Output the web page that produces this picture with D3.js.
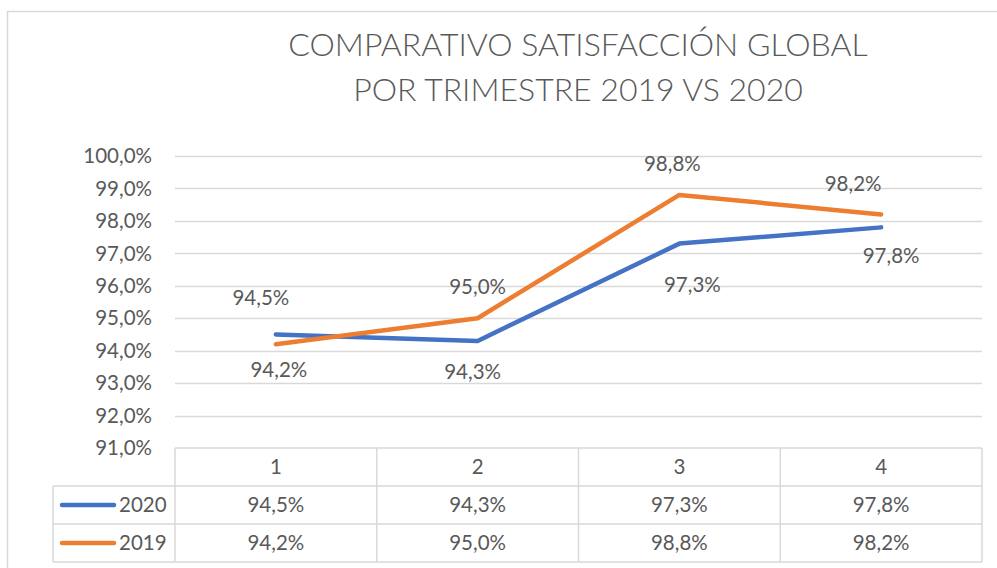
<!DOCTYPE html>
<html>
<head>
<meta charset="utf-8">
<style>
body { margin: 0; background: #fff; }
svg text { font-family: Lato, "Open Sans", sans-serif; fill: #595959; }
</style>
</head>
<body>
<svg width="997" height="568"></svg>
<script src="https://d3js.org/d3.v7.min.js"></script>
<script>
// data
var quarters = ["1", "2", "3", "4"];
var seriesNames = ["2020", "2019"];
var values2020 = [94.5, 94.3, 97.3, 97.8];
var values2019 = [94.2, 95.0, 98.8, 98.2];
var yTicks = [91, 92, 93, 94, 95, 96, 97, 98, 99, 100];
var titleLines = ["COMPARATIVO SATISFACCIÓN GLOBAL", "POR TRIMESTRE 2019 VS 2020"];

// label placement (above = -1 / below = 1) and small manual nudges as in the original
var labelPos2020 = [{side: -1, dx: -15, dy: -6}, {side: 1, dx: -5, dy: 0}, {side: 1, dx: 13, dy: 10}, {side: 1, dx: 10, dy: -3}];
var labelPos2019 = [{side: 1, dx: 3, dy: -5}, {side: -1, dx: 0, dy: 0}, {side: -1, dx: -7, dy: 0}, {side: -1, dx: -28, dy: 0}];

var colors = {"2020": "#4472C4", "2019": "#ED7D31"};
var fmt = function(v) { return d3.format(".1f")(v).replace(".", ",") + "%"; };
var fs = 20.5;

var svg = d3.select("svg");
var plotLeft = 175, plotRight = 982, plotTop = 156, plotBottom = 448;
var rowH = 38;

// chart border
svg.append("path")
  .attr("d", "M7.5,568 V11.5 H997")
  .attr("fill", "none")
  .attr("stroke", "#d9d9d9")
  .attr("stroke-width", 1.5);

// title
svg.append("g").selectAll("text")
  .data(titleLines)
  .enter().append("text")
  .attr("x", 578)
  .attr("y", function(d, i) { return 56 + i * 45; })
  .attr("text-anchor", "middle")
  .attr("font-size", 32)
  .attr("font-weight", 300)
  .text(function(d) { return d; });

var x = d3.scaleBand().domain(quarters).range([plotLeft, plotRight]);
var y = d3.scaleLinear().domain([91, 100]).range([plotBottom, plotTop]);

// gridlines
svg.append("g").selectAll("line")
  .data(yTicks.filter(function(t) { return t > 91; }))
  .enter().append("line")
  .attr("x1", plotLeft).attr("x2", plotRight)
  .attr("y1", function(d) { return Math.round(y(d)) + 0.5; })
  .attr("y2", function(d) { return Math.round(y(d)) + 0.5; })
  .attr("stroke", "#d9d9d9")
  .attr("stroke-width", 1.5);

// y axis labels
svg.append("g").selectAll("text")
  .data(yTicks)
  .enter().append("text")
  .attr("x", 152)
  .attr("y", function(d) { return y(d); })
  .attr("dy", "0.35em")
  .attr("text-anchor", "end")
  .attr("font-size", fs)
  .text(function(d) { return d3.format(".1f")(d).replace(".", ",") + "%"; });

// lines
var line = d3.line()
  .x(function(d, i) { return x(quarters[i]) + x.bandwidth() / 2; })
  .y(function(d) { return y(d); });

var series = [
  {name: "2020", values: values2020, labels: labelPos2020},
  {name: "2019", values: values2019, labels: labelPos2019}
];

series.forEach(function(s) {
  svg.append("path")
    .datum(s.values)
    .attr("d", line)
    .attr("fill", "none")
    .attr("stroke", colors[s.name])
    .attr("stroke-width", 4.5)
    .attr("stroke-linejoin", "round")
    .attr("stroke-linecap", "round");
});

// data labels
series.forEach(function(s) {
  svg.append("g").selectAll("text")
    .data(s.values)
    .enter().append("text")
    .attr("x", function(d, i) { return x(quarters[i]) + x.bandwidth() / 2 + s.labels[i].dx; })
    .attr("y", function(d, i) { return y(d) + s.labels[i].side * 31 + s.labels[i].dy; })
    .attr("dy", "0.35em")
    .attr("text-anchor", "middle")
    .attr("font-size", fs)
    .text(fmt);
});

// data table
var tbl = svg.append("g").attr("stroke", "#d9d9d9").attr("stroke-width", 1.5).attr("fill", "none");
var legendLeft = 53;
// header row (only category cells)
tbl.append("line").attr("x1", plotLeft).attr("x2", plotRight).attr("y1", plotBottom).attr("y2", plotBottom);
[0, 1, 2].forEach(function(r) {
  tbl.append("line")
    .attr("x1", legendLeft).attr("x2", plotRight)
    .attr("y1", plotBottom + (r + 1) * rowH).attr("y2", plotBottom + (r + 1) * rowH);
});
tbl.append("line").attr("x1", legendLeft).attr("x2", legendLeft)
  .attr("y1", plotBottom + rowH).attr("y2", plotBottom + 3 * rowH);
quarters.concat(["end"]).forEach(function(q, i) {
  var xx = i < quarters.length ? x(q) : plotRight;
  tbl.append("line").attr("x1", xx).attr("x2", xx).attr("y1", plotBottom).attr("y2", plotBottom + 3 * rowH);
});

// category labels
svg.append("g").selectAll("text")
  .data(quarters)
  .enter().append("text")
  .attr("x", function(d) { return x(d) + x.bandwidth() / 2; })
  .attr("y", plotBottom + rowH / 2)
  .attr("dy", "0.35em")
  .attr("text-anchor", "middle")
  .attr("font-size", fs)
  .text(function(d) { return d; });

// rows
series.forEach(function(s, r) {
  var cy = plotBottom + (r + 1) * rowH + rowH / 2;
  svg.append("line")
    .attr("x1", 62).attr("x2", 114)
    .attr("y1", cy).attr("y2", cy)
    .attr("stroke", colors[s.name])
    .attr("stroke-width", 4.5)
    .attr("stroke-linecap", "round");
  svg.append("text")
    .attr("x", 119).attr("y", cy).attr("dy", "0.35em")
    .attr("font-size", fs)
    .text(s.name);
  svg.append("g").selectAll("text")
    .data(s.values)
    .enter().append("text")
    .attr("x", function(d, i) { return x(quarters[i]) + x.bandwidth() / 2; })
    .attr("y", cy)
    .attr("dy", "0.35em")
    .attr("text-anchor", "middle")
    .attr("font-size", fs)
    .text(fmt);
});
</script>
</body>
</html>
